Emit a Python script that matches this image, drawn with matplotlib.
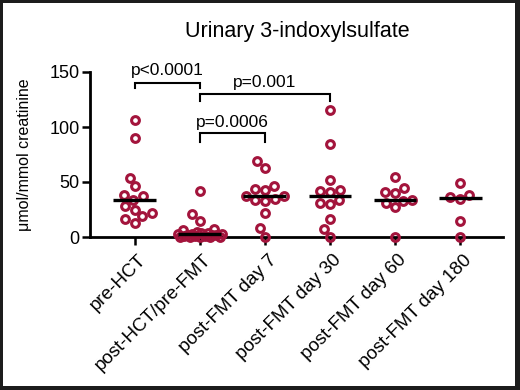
import numpy as np
import matplotlib
matplotlib.use("Agg")
import matplotlib.pyplot as plt
import matplotlib.patches as mpatches
import matplotlib.transforms as mtransforms

plt.rcParams["font.family"] = ["Liberation Sans", "DejaVu Sans"]

# ── data ──────────────────────────────────────────────────────────────────────

CATEGORIES = [
    "pre-HCT",
    "post-HCT/pre-FMT",
    "post-FMT day 7",
    "post-FMT day 30",
    "post-FMT day 60",
    "post-FMT day 180",
]

PRE_HCT = [106, 90, 54, 46, 38, 37, 34, 28, 25, 21.5, 19, 16, 13]
POST_HCT = [42, 21, 15, 7, 6, 5, 4, 4, 3, 3, 3, 2, 2, 2, 1, 1, 1, 0, 0, 0, 0, 0]
DAY_7 = [69, 63, 46, 44, 43, 37, 37, 35, 34, 33, 21.5, 8, 0]
DAY_30 = [115, 85, 52, 43, 42, 41, 34, 31, 30, 16, 7, 0]
DAY_60 = [55, 44.5, 41, 40, 34, 33, 30.6, 27, 0]
DAY_180 = [49, 38.5, 36.6, 35, 15, 0]

GROUPS = [PRE_HCT, POST_HCT, DAY_7, DAY_30, DAY_60, DAY_180]

P_LABELS = ["p<0.0001", "p=0.001", "p=0.0006"]
P_PAIRS = [(0, 1), (1, 3), (1, 2)]

RED = "#a3143c"


def swarm_x(values, center, ax, diam_px=10.0, limit_px=22.0):
    """Simple beeswarm: x positions (data units) so circles don't overlap."""
    trans = ax.transData
    x_scale = trans.transform((1, 0))[0] - trans.transform((0, 0))[0]
    pts = np.column_stack([np.full(len(values), center), values])
    ys = trans.transform(pts)[:, 1]
    placed = []
    dx_out = np.zeros(len(values))
    for i in np.argsort(ys):
        y = ys[i]
        cands = [0.0]
        for pdx, py in placed:
            dy = abs(y - py)
            if dy < diam_px:
                w = np.sqrt(diam_px ** 2 - dy ** 2)
                cands += [pdx + w, pdx - w]
        cands = sorted(cands, key=lambda c: (abs(c), c))
        chosen = None
        for c in cands:
            if abs(c) > limit_px:
                continue
            if all((c - pdx) ** 2 + (y - py) ** 2 >= diam_px ** 2 - 1e-6
                   for pdx, py in placed):
                chosen = c
                break
        if chosen is None:
            # crowded near zero: best clearance inside the allowed width
            grid = np.linspace(-limit_px, limit_px, 29)
            clear = [min(np.hypot(g - pdx, y - py) for pdx, py in placed) for g in grid]
            chosen = grid[int(np.argmax(clear))]
        placed.append((chosen, y))
        dx_out[i] = chosen
    return center + dx_out / x_scale


# ── figure ────────────────────────────────────────────────────────────────────

W, H = 520, 390
fig = plt.figure(figsize=(W / 100, H / 100), dpi=100)
fig.patch.set_facecolor("#1c1c1c")
fig.patches.append(mpatches.Rectangle(
    (3 / W, 4 / H), 512 / W, 383 / H, transform=fig.transFigure,
    facecolor="white", edgecolor="none", zorder=-1,
))

ax = fig.add_axes([90 / W, (H - 237) / H, 413 / W, 165 / H])
ax.set_zorder(1)
ax.set_facecolor("none")
ax.set_xlim(-0.69, 5.66)
ax.set_ylim(0, 150)

for i, vals in enumerate(GROUPS):
    xs = swarm_x(vals, i, ax)
    ax.plot(xs, vals, "o", mfc="none", mec=RED, ms=5.6, mew=2.2,
            clip_on=False, zorder=3)
    med = np.median(vals)
    ax.plot([i - 0.33, i + 0.33], [med, med], color="black", lw=2.4,
            solid_capstyle="butt", zorder=4, clip_on=False)

# significance brackets
bracket_levels = [(140, 135.5, 147), (130, 124, 136), (94.5, 86, 100)]
for (a, b), lab, (bar, tick, txt) in zip(P_PAIRS, P_LABELS, bracket_levels):
    ax.plot([a, a, b, b], [tick, bar, bar, tick], color="black", lw=1.5,
            clip_on=False, solid_joinstyle="miter")
    ax.text((a + b) / 2, txt, lab, ha="center", va="baseline", fontsize=12.5)

# axes styling
for side in ("top", "right"):
    ax.spines[side].set_visible(False)
for side in ("left", "bottom"):
    ax.spines[side].set_linewidth(2.0)
ax.tick_params(width=1.8, length=5.5, labelsize=13, pad=2)
ax.set_yticks([0, 50, 100, 150])
ax.set_xticks(range(len(CATEGORIES)))
ax.set_xticklabels(CATEGORIES, rotation=45, ha="right", va="top",
                   rotation_mode="anchor", fontsize=13.5)
shift = mtransforms.ScaledTranslation(3 / 100, -4 / 100, fig.dpi_scale_trans)
for lab in ax.get_xticklabels():
    lab.set_transform(lab.get_transform() + shift)

ax.set_ylabel("\u03bcmol/mmol creatinine", fontsize=11.5)
ax.yaxis.set_label_coords(-0.14, 0.5)

fig.text(297 / W, 1 - 37 / H, "Urinary 3-indoxylsulfate", ha="center",
         va="baseline", fontsize=15.5)

fig.savefig("out.png", dpi=100, facecolor=fig.get_facecolor())
